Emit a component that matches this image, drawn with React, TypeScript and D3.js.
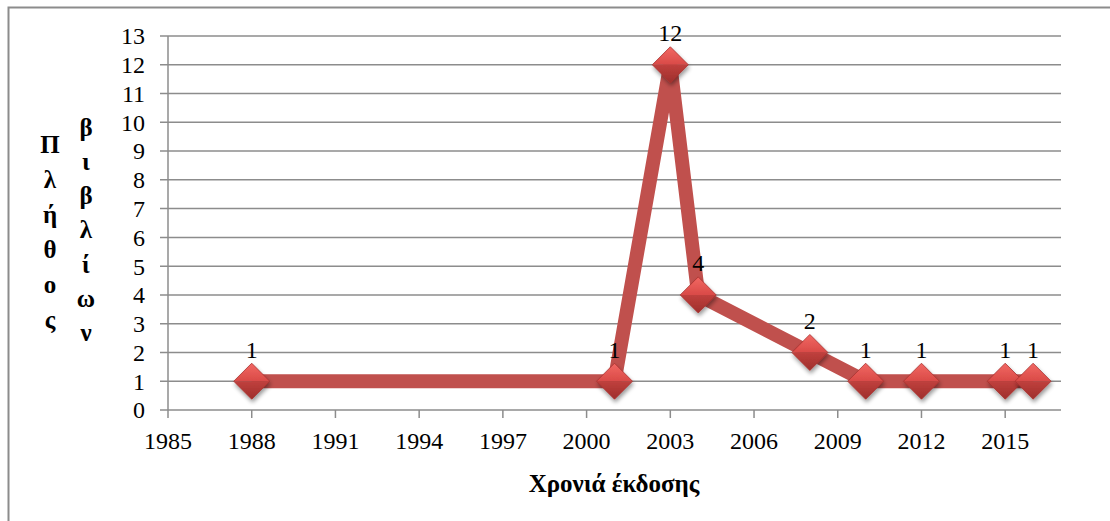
import * as d3 from 'd3';
import React from 'react';

const years = [1988, 2001, 2003, 2004, 2008, 2010, 2012, 2015, 2016];
const counts = [1, 1, 12, 4, 2, 1, 1, 1, 1];
const xTicks = [1985, 1988, 1991, 1994, 1997, 2000, 2003, 2006, 2009, 2012, 2015];
const yTicks = d3.range(0, 14);
const yTitle1 = ['Π', 'λ', 'ή', 'θ', 'ο', 'ς'];
const yTitle2 = ['β', 'ι', 'β', 'λ', 'ί', 'ω', 'ν'];
const xTitle = 'Χρονιά έκδοσης';

const W = 1110;
const H = 521;
const left = 168;
const right = 1061;
const top = 36;
const bottom = 410;

const font = '"Liberation Serif", "Times New Roman", "DejaVu Serif", serif';

export default function App() {
  const x = d3.scaleLinear().domain([1985, 2017]).range([left, right]);
  const y = d3.scaleLinear().domain([0, 13]).range([bottom, top]);
  const pts = years.map((yr, i) => ({ yr, v: counts[i] }));
  const line = d3.line<{ yr: number; v: number }>().x(d => x(d.yr)).y(d => y(d.v));
  const r = 18;
  const txt = { fontFamily: font, fontSize: '24px' };
  const bold = { fontFamily: font, fontSize: '25px', fontWeight: 'bold' as const };

  return (
    <svg width={W} height={H} style={{ position: 'absolute', left: 0, top: 0 }}>
      <defs>
        <linearGradient id="gTop" x1="0" y1="0" x2="0" y2="1">
          <stop offset="0" stopColor="#f26863" />
          <stop offset="1" stopColor="#d94a47" />
        </linearGradient>
        <linearGradient id="gBot" x1="0" y1="0" x2="0" y2="1">
          <stop offset="0" stopColor="#c0403d" />
          <stop offset="1" stopColor="#9e2f2c" />
        </linearGradient>
        <filter id="sh" x="-50%" y="-50%" width="200%" height="200%">
          <feGaussianBlur in="SourceAlpha" stdDeviation="2" />
          <feOffset dx="1" dy="3" result="b" />
          <feComponentTransfer><feFuncA type="linear" slope="0.4" /></feComponentTransfer>
          <feMerge><feMergeNode /><feMergeNode in="SourceGraphic" /></feMerge>
        </filter>
      </defs>
      <rect x={8.5} y={7.5} width={W + 10} height={H + 10} fill="white" stroke="#8c8c8c" strokeWidth={2} />
      {yTicks.map(t => (
        <g key={'y' + t}>
          <line x1={left - 8} x2={right} y1={y(t)} y2={y(t)} stroke="#8c8c8c" strokeWidth={1.5} />
          <text x={left - 23} y={y(t)} dy="0.35em" textAnchor="end" style={txt}>{t}</text>
        </g>
      ))}
      <line x1={left} x2={left} y1={top} y2={bottom} stroke="#8c8c8c" strokeWidth={1.5} />
      {xTicks.map(t => (
        <g key={'x' + t}>
          <line x1={x(t)} x2={x(t)} y1={bottom} y2={bottom + 8} stroke="#8c8c8c" strokeWidth={1.5} />
          <text x={x(t)} y={bottom + 31} dy="0.35em" textAnchor="middle" style={txt}>{t}</text>
        </g>
      ))}
      <path d={line(pts) || ''} fill="none" stroke="#c0504d" strokeWidth={14} strokeLinejoin="miter" />
      {pts.map((p, i) => {
        const cx = x(p.yr);
        const cy = y(p.v);
        return (
          <g key={'m' + i} filter="url(#sh)">
            <path d={`M${cx - r},${cy} L${cx},${cy - r} L${cx + r},${cy} Z`} fill="url(#gTop)" />
            <path d={`M${cx - r},${cy} L${cx + r},${cy} L${cx},${cy + r} Z`} fill="url(#gBot)" />
            <path d={`M${cx - r},${cy} L${cx},${cy - r} L${cx + r},${cy} L${cx},${cy + r} Z`} fill="none" stroke="#a8302d" strokeWidth={0.8} />
          </g>
        );
      })}
      {pts.map((p, i) => (
        <text key={'l' + i} x={x(p.yr)} y={y(p.v) - 32} dy="0.35em" textAnchor="middle" style={txt}>{p.v}</text>
      ))}
      {yTitle1.map((c, i) => (
        <text key={'a' + i} x={50} y={144 + i * 35} dy="0.35em" textAnchor="middle" style={bold}>{c}</text>
      ))}
      {yTitle2.map((c, i) => (
        <text key={'b' + i} x={86} y={127 + i * 34.2} dy="0.35em" textAnchor="middle" style={bold}>{c}</text>
      ))}
      <text x={614} y={483} dy="0.35em" textAnchor="middle" style={bold}>{xTitle}</text>
    </svg>
  );
}
